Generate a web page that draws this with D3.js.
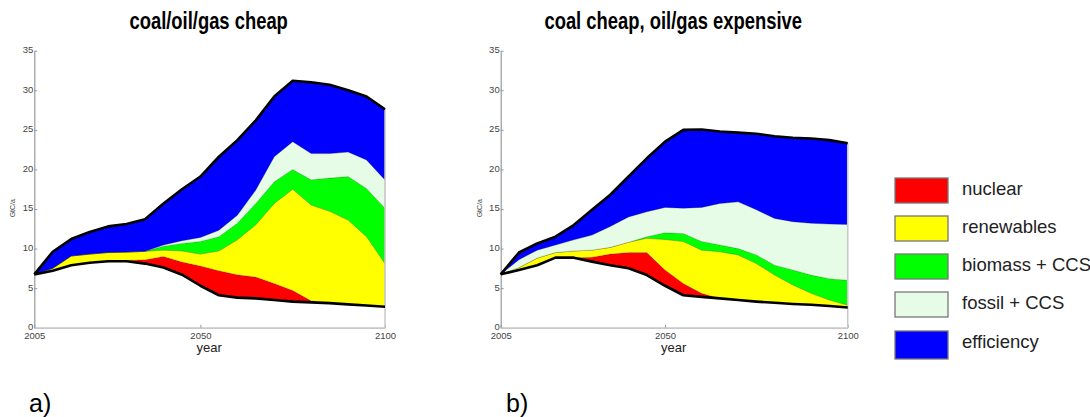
<!DOCTYPE html>
<html>
<head>
<meta charset="utf-8">
<script src="https://cdn.jsdelivr.net/npm/d3@7"></script>
<style>
  body { margin: 0; background: #fff; }
  svg { display: block; }
  .tick text { font-family: "Liberation Sans", Arial, sans-serif; font-size: 9.5px; fill: #444; }
</style>
</head>
<body>
<div id="chart"></div>
<script>
const years = [2005, 2010, 2015, 2020, 2025, 2030, 2035, 2040, 2045, 2050,
               2055, 2060, 2065, 2070, 2075, 2080, 2085, 2090, 2095, 2100];

const layerKeys = ["residual", "nuclear", "renewables", "biomass", "fossil", "efficiency"];
const legendLabels = ["nuclear", "renewables", "biomass + CCS", "fossil + CCS", "efficiency"];
const layerColors = ["#ff0000", "#ffff00", "#00ff00", "#e6fce6", "#0000ff"];

const yTicks = [0, 5, 10, 15, 20, 25, 30, 35];
const xTicks = [2005, 2050, 2100];

// a) coal/oil/gas cheap  (GtC/a, thickness of each wedge)
const aResidual   = [6.74, 7.2, 7.9, 8.2, 8.4, 8.4, 8.1, 7.6, 6.7, 5.3, 4.1, 3.8, 3.7, 3.5, 3.3, 3.2, 3.1, 2.95, 2.8, 2.65];
const aNuclear    = [0, 0, 0, 0, 0, 0.1, 0.5, 1.4, 1.6, 2.5, 3.1, 2.9, 2.7, 2.1, 1.4, 0.2, 0, 0, 0, 0];
const aRenewables = [0, 0.3, 1.16, 1.1, 1.1, 1.05, 1.05, 0.8, 1.4, 1.5, 2.5, 4.4, 6.6, 10.1, 12.8, 12.1, 11.6, 10.65, 8.7, 5.45];
const aBiomass    = [0, 0, 0, 0, 0, 0, 0, 0.5, 0.95, 1.6, 1.8, 2.1, 2.7, 2.75, 2.5, 3.2, 4.2, 5.5, 6.1, 7.0];
const aFossil     = [0, 0, 0, 0, 0, 0, 0, 0.15, 0.34, 0.5, 0.8, 1.0, 1.7, 3.15, 3.5, 3.3, 3.1, 3.1, 3.6, 3.55];
const aEfficiency = [0, 2.1, 2.14, 2.8, 3.3, 3.55, 4.05, 5.25, 6.5, 7.7, 9.3, 9.5, 8.8, 7.6, 7.7, 9.0, 8.7, 7.8, 8.0, 8.95];

// b) coal cheap, oil/gas expensive
const bResidual   = [6.74, 7.3, 7.9, 8.85, 8.85, 8.35, 7.9, 7.5, 6.65, 5.3, 4.1, 3.9, 3.7, 3.5, 3.3, 3.15, 3.0, 2.9, 2.75, 2.55];
const bNuclear    = [0, 0, 0, 0, 0, 0.55, 1.4, 2.0, 2.85, 2.0, 1.5, 0.45, 0, 0, 0, 0, 0, 0, 0, 0];
const bRenewables = [0, 0.3, 0.9, 0.65, 0.85, 0.9, 0.85, 1.3, 1.8, 3.85, 5.3, 5.45, 5.9, 5.7, 4.8, 3.5, 2.4, 1.45, 0.75, 0.3];
const bBiomass    = [0, 0, 0, 0, 0, 0, 0, 0, 0.2, 0.85, 1.0, 1.1, 0.85, 0.8, 1.1, 1.25, 1.9, 2.3, 2.7, 3.15];
const bFossil     = [0, 1.0, 1.0, 0.95, 1.4, 1.9, 2.65, 3.2, 3.15, 3.2, 3.2, 4.3, 5.25, 5.9, 5.7, 5.9, 6.1, 6.55, 6.9, 7.05];
const bEfficiency = [0, 0.9, 0.85, 1.05, 1.87, 3.2, 4.0, 5.1, 6.75, 8.3, 9.9, 9.85, 9.1, 8.75, 9.6, 10.4, 10.6, 10.7, 10.6, 10.25];

function buildRows(cols) {
    return years.map((yr, i) => {
        const row = { year: yr };
        layerKeys.forEach((k, j) => { row[k] = cols[j][i]; });
        return row;
    });
}

const svg = d3.select("#chart").append("svg")
    .attr("width", 1090)
    .attr("height", 417);

function drawPanel(rows, left, top, width, height, title, tag) {
    const g = svg.append("g").attr("transform", `translate(${left},${top})`);

    const x = d3.scaleLinear().domain([2005, 2100]).range([0, width]);
    const y = d3.scaleLinear().domain([0, 35]).range([height, 0]);

    const stacked = d3.stack().keys(layerKeys)(rows);

    const area = d3.area()
        .x(d => x(d.data.year))
        .y0(d => y(d[0]))
        .y1(d => y(d[1]));

    g.selectAll(".layer")
        .data(stacked.slice(1))
        .enter().append("path")
        .attr("class", "layer")
        .attr("d", area)
        .attr("fill", (d, i) => layerColors[i])
        .attr("stroke", "rgba(0,0,0,0.3)")
        .attr("stroke-width", 0.5);

    // axes
    const yAxis = g.append("g")
        .call(d3.axisLeft(y).tickValues(yTicks).tickSize(-3).tickSizeOuter(0).tickPadding(1));
    yAxis.select(".domain").attr("stroke", "#999").attr("stroke-width", 1.2);
    yAxis.selectAll(".tick line").attr("stroke", "#999");
    yAxis.selectAll(".tick text").attr("dy", "0.2em");

    const xAxis = g.append("g")
        .attr("transform", `translate(0,${height})`)
        .call(d3.axisBottom(x).tickValues(xTicks).tickFormat(d3.format("d"))
            .tickSize(-3).tickSizeOuter(0).tickPadding(5));
    xAxis.select(".domain").attr("stroke", "#c8c8c8").attr("stroke-width", 1.8);
    xAxis.selectAll(".tick line").attr("stroke", "#999");

    // right edge
    const last = rows[rows.length - 1];
    const lastTotal = layerKeys.reduce((s, k) => s + last[k], 0);
    g.append("line")
        .attr("x1", x(2100)).attr("x2", x(2100))
        .attr("y1", y(0)).attr("y2", y(lastTotal))
        .attr("stroke", "#c8c8c8").attr("stroke-width", 1.5);

    // baseline and residual outlines
    const line = d3.line().x(d => x(d.data.year)).y(d => y(d[1]));
    g.append("path")
        .attr("d", line(stacked[stacked.length - 1]))
        .attr("fill", "none").attr("stroke", "#000").attr("stroke-width", 2.6)
        .attr("stroke-linejoin", "round");
    g.append("path")
        .attr("d", line(stacked[0]))
        .attr("fill", "none").attr("stroke", "#000").attr("stroke-width", 2.6)
        .attr("stroke-linejoin", "round");

    g.append("text")
        .attr("x", width / 2 - 0.5).attr("y", height + 24)
        .attr("text-anchor", "middle")
        .style("font-family", "Liberation Sans, Arial, sans-serif")
        .style("font-size", "13px").style("fill", "#222")
        .text("year");

    g.append("text")
        .attr("transform", `translate(-19,${height / 2 + 19}) rotate(-90)`)
        .attr("text-anchor", "middle")
        .style("font-family", "Liberation Sans, Arial, sans-serif")
        .style("font-size", "7px").style("fill", "#444")
        .text("GtC/a");

    // condensed bold title
    g.append("text")
        .attr("transform", `translate(${width / 2 - 1},-22) scale(0.8,1)`)
        .attr("text-anchor", "middle")
        .style("font-family", "Liberation Sans, Arial, sans-serif")
        .style("font-weight", "bold")
        .style("font-size", "23px").style("fill", "#000")
        .text(title);

    svg.append("text")
        .attr("x", tag.x).attr("y", 412)
        .style("font-family", "Liberation Sans, Arial, sans-serif")
        .style("font-size", "25px").style("fill", "#000")
        .text(tag.text);
}

drawPanel(buildRows([aResidual, aNuclear, aRenewables, aBiomass, aFossil, aEfficiency]),
    34.3, 50.7, 350.7, 277, "coal/oil/gas cheap", { x: 29, text: "a)" });
drawPanel(buildRows([bResidual, bNuclear, bRenewables, bBiomass, bFossil, bEfficiency]),
    500.7, 50.7, 347, 277, "coal cheap, oil/gas expensive", { x: 506, text: "b)" });

// legend
const legendTops = [178, 216, 254, 292, 331];
const legend = svg.append("g");
legendLabels.forEach((lab, i) => {
    legend.append("rect")
        .attr("x", 895).attr("y", legendTops[i])
        .attr("width", 53).attr("height", i === 4 ? 28 : 25)
        .attr("fill", layerColors[i])
        .attr("stroke", "#777").attr("stroke-width", 1.3);
    legend.append("text")
        .attr("x", 962).attr("y", legendTops[i] + 10)
        .attr("dominant-baseline", "central")
        .style("font-family", "Liberation Sans, Arial, sans-serif")
        .style("font-size", "18.5px").style("fill", "#222")
        .text(lab);
});
</script>
</body>
</html>
